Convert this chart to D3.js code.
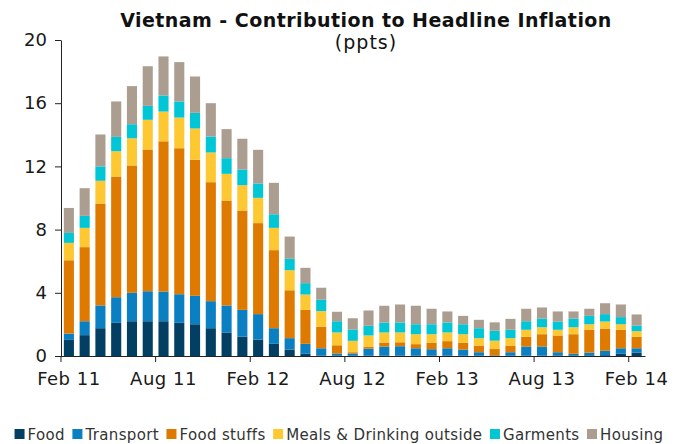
<!DOCTYPE html>
<html>
<head>
<meta charset="utf-8">
<script src="https://d3js.org/d3.v7.min.js"></script>
<style>
  body { margin: 0; background: #fff; }
  svg { display: block; font-family: "DejaVu Sans", Verdana, sans-serif; }
</style>
</head>
<body>
<div id="chart"></div>
<script>
  var months = ["Feb 11","Mar 11","Apr 11","May 11","Jun 11","Jul 11","Aug 11","Sep 11","Oct 11","Nov 11","Dec 11","Jan 12",
                "Feb 12","Mar 12","Apr 12","May 12","Jun 12","Jul 12","Aug 12","Sep 12","Oct 12","Nov 12","Dec 12","Jan 13",
                "Feb 13","Mar 13","Apr 13","May 13","Jun 13","Jul 13","Aug 13","Sep 13","Oct 13","Nov 13","Dec 13","Jan 14","Feb 14"];

  var tickLabels = ["Feb 11","Aug 11","Feb 12","Aug 12","Feb 13","Aug 13","Feb 14"];
  var yTicks = [0, 4, 8, 12, 16, 20];

  var seriesNames = ["Food", "Transport", "Food stuffs", "Meals & Drinking outside", "Garments", "Housing"];
  var colors = ["#023f62", "#0a7fc1", "#df7a00", "#fec832", "#00c6d6", "#ab9d90"];

  var food = [1.02,1.32,1.76,2.10,2.20,2.20,2.20,2.10,2.01,1.76,1.49,1.22,1.04,0.77,0.41,0.14,0.03,0.03,0.03,0.03,0.03,0.03,0.03,0.03,
              0.03,0.03,0.03,0.02,0.03,0.02,0.02,0.03,0.03,0.04,0.05,0.14,0.22];
  var transport = [0.40,0.88,1.44,1.62,1.80,1.90,1.88,1.81,1.80,1.71,1.71,1.70,1.61,0.99,0.72,0.63,0.46,0.13,0.13,0.44,0.57,0.59,0.46,0.40,
                   0.46,0.38,0.21,0.02,0.21,0.58,0.58,0.21,0.11,0.18,0.28,0.35,0.27];
  var foodStuffs = [4.64,4.69,6.45,7.64,8.06,8.97,9.51,9.24,8.61,7.53,6.64,6.29,5.76,4.94,3.03,2.15,1.36,0.52,0.08,0.11,0.25,0.25,0.26,0.42,
                    0.45,0.44,0.42,0.40,0.42,0.61,0.78,1.06,1.24,1.44,1.41,1.17,0.72];
  var meals = [1.10,1.22,1.44,1.60,1.72,1.88,1.88,1.94,1.98,1.88,1.69,1.60,1.60,1.41,1.27,0.97,0.99,0.81,0.72,0.72,0.64,0.62,0.63,0.53,
               0.55,0.53,0.47,0.53,0.47,0.45,0.44,0.36,0.44,0.35,0.44,0.35,0.36];
  var garments = [0.63,0.76,0.91,0.91,0.89,0.88,1.02,1.02,0.99,1.01,0.99,0.99,0.91,0.86,0.72,0.72,0.72,0.71,0.72,0.61,0.63,0.63,0.63,0.63,
                  0.63,0.63,0.63,0.63,0.53,0.54,0.55,0.52,0.55,0.53,0.47,0.45,0.36];
  var housing = [1.58,1.75,2.02,2.24,2.41,2.51,2.47,2.49,2.30,2.11,1.84,1.95,2.13,1.99,1.41,0.97,0.76,0.60,0.71,0.97,1.06,1.14,1.17,0.98,
                 0.70,0.53,0.53,0.53,0.69,0.79,0.70,0.64,0.45,0.45,0.69,0.80,0.70];

  var seriesValues = [food, transport, foodStuffs, meals, garments, housing];

  var table = months.map(function(m, i) {
    var row = { month: m };
    seriesNames.forEach(function(s, k) { row[s] = seriesValues[k][i]; });
    return row;
  });

  var width = 682, height = 444;
  var plotLeft = 61, plotRight = 644.5, plotTop = 40, plotBottom = 356;

  var svg = d3.select("#chart").append("svg")
              .attr("width", width)
              .attr("height", height);

  var pad = 0.36;
  var x = d3.scaleBand()
            .domain(months)
            .range([plotLeft, plotRight])
            .paddingInner(pad)
            .paddingOuter(pad / 2);
  var step = x.step();

  var y = d3.scaleLinear()
            .domain([0, 20])
            .range([plotBottom, plotTop]);

  var stacked = d3.stack().keys(seriesNames)(table);

  svg.append("g")
     .selectAll("g")
     .data(stacked)
     .enter()
     .append("g")
     .attr("fill", function(d, i) { return colors[i]; })
     .selectAll("rect")
     .data(function(d) { return d; })
     .enter()
     .append("rect")
     .attr("x", function(d) { return x(d.data.month); })
     .attr("width", x.bandwidth())
     .attr("y", function(d) { return y(d[1]); })
     .attr("height", function(d) { return y(d[0]) - y(d[1]); });

  // y axis
  var yAxis = svg.append("g")
                 .attr("transform", "translate(" + plotLeft + ",0)")
                 .call(d3.axisLeft(y).tickValues(yTicks).tickSize(6).tickPadding(8).tickSizeOuter(0));
  yAxis.selectAll("text").attr("font-size", 18).attr("fill", "#1a1a1a").attr("font-family", "DejaVu Sans, Verdana, sans-serif");
  yAxis.selectAll("line, path").attr("stroke", "#222");

  // x axis, ticks on the left edge of each labelled month
  var xAxis = svg.append("g")
                 .attr("transform", "translate(0," + plotBottom + ")")
                 .call(d3.axisBottom(x).tickValues(tickLabels).tickSize(6).tickPadding(10).tickSizeOuter(0));
  xAxis.select(".domain").attr("d", "M" + plotLeft + ",0.5H" + (plotRight + 1));
  xAxis.selectAll(".tick line").attr("x1", -step / 2).attr("x2", -step / 2);
  xAxis.selectAll("text").attr("font-size", 18).attr("letter-spacing", 0.5)
       .attr("fill", "#1a1a1a").attr("font-family", "DejaVu Sans, Verdana, sans-serif");
  xAxis.selectAll("line, path").attr("stroke", "#222");

  // title
  svg.append("text")
     .attr("x", 366)
     .attr("y", 27)
     .attr("text-anchor", "middle")
     .attr("font-size", 19)
     .attr("letter-spacing", 0.45)
     .attr("font-weight", "bold")
     .attr("fill", "#111")
     .text("Vietnam - Contribution to Headline Inflation");

  svg.append("text")
     .attr("x", 366)
     .attr("y", 48.5)
     .attr("text-anchor", "middle")
     .attr("font-size", 19)
     .attr("letter-spacing", 1)
     .attr("fill", "#111")
     .text("(ppts)");

  // legend
  var legend = svg.append("g");
  var lx = 0, gap = 7.5;
  seriesNames.forEach(function(name, i) {
    var item = legend.append("g").attr("transform", "translate(" + lx + ",0)");
    item.append("rect")
        .attr("x", 0).attr("y", 429)
        .attr("width", 10).attr("height", 10)
        .attr("fill", colors[i]);
    var t = item.append("text")
                .attr("x", 13).attr("y", 440)
                .attr("font-size", 15)
                .attr("letter-spacing", 0.35)
                .attr("fill", "#333")
                .text(name);
    lx += 13 + t.node().getComputedTextLength() + gap;
  });
  var legendWidth = lx - gap;
  legend.attr("transform", "translate(" + (339 - legendWidth / 2) + ",0)");
</script>
</body>
</html>
